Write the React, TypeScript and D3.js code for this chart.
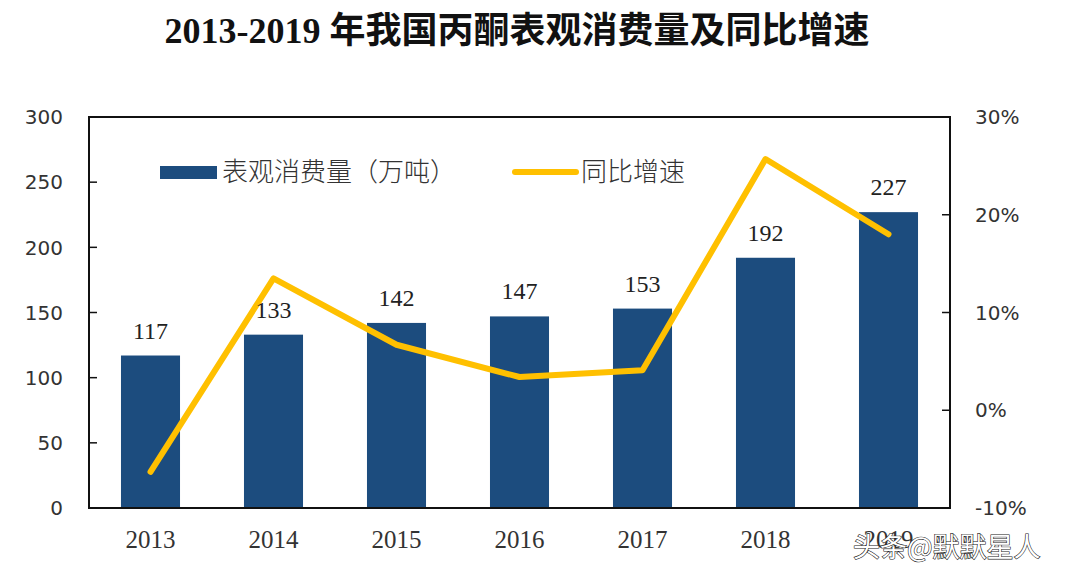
import React from "react";
import * as d3 from "d3";

const years = ["2013", "2014", "2015", "2016", "2017", "2018", "2019"];
const consumption = [117, 133, 142, 147, 153, 192, 227];
const growth = [-6.3, 13.5, 6.7, 3.4, 4.1, 25.7, 18.0];
const leftTicks = [0, 50, 100, 150, 200, 250, 300];
const rightTicks = [-10, 0, 10, 20, 30];

const W = 1066, H = 580;
const PL = 89, PR = 950, PT = 117, PB = 508;

export default function App() {
  const x = d3.scaleBand<string>().domain(years).range([PL, PR]).paddingInner(0.52).paddingOuter(0.26);
  const xc = d3.scaleBand<string>().domain(years).range([PL, PR]);
  const yL = d3.scaleLinear().domain([0, 300]).range([PB, PT]);
  const yR = d3.scaleLinear().domain([-10, 30]).range([PB, PT]);
  const line = d3
    .line<number>()
    .x((_, i) => (xc(years[i]) as number) + xc.bandwidth() / 2)
    .y((d) => yR(d));

  const serif = "'Liberation Serif', 'Times New Roman', serif";
  const sans = "'DejaVu Sans', 'Liberation Sans', sans-serif";
  const cjk = "'Noto Sans CJK SC', sans-serif";

  return (
    <svg width={W} height={H} style={{ position: "absolute", left: 0, top: 0, background: "#fff" }}>
      <text x={517} y={43} textAnchor="middle" fontFamily={`'Liberation Serif', 'Noto Sans CJK SC', serif`} fontWeight="bold" fontSize={36} fill="#111">
        2013-2019 年我国丙酮表观消费量及同比增速
      </text>

      {years.map((yr, i) => (
        <rect key={yr} x={x(yr)} y={yL(consumption[i])} width={x.bandwidth()} height={PB - yL(consumption[i])} fill="#1c4c7e" />
      ))}

      <path d={line(growth) || ""} fill="none" stroke="#FFC000" strokeWidth={6} strokeLinejoin="round" strokeLinecap="round" />

      {years.map((yr, i) => (
        <text key={"v" + yr} x={(x(yr) as number) + x.bandwidth() / 2} y={yL(consumption[i]) - 17} textAnchor="middle" fontFamily={serif} fontSize={24} fill="#222">
          {consumption[i]}
        </text>
      ))}

      <rect x={PL} y={PT} width={PR - PL} height={PB - PT} fill="none" stroke="#111" strokeWidth={2} />

      {leftTicks.map((t) => (
        <g key={"l" + t}>
          <line x1={PL} x2={PL + 8} y1={yL(t)} y2={yL(t)} stroke="#111" strokeWidth={1.5} />
          <text x={63} y={yL(t)} dy="0.36em" textAnchor="end" fontFamily={sans} fontSize={20} fill="#333">
            {t}
          </text>
        </g>
      ))}
      {rightTicks.map((t) => (
        <g key={"r" + t}>
          <line x1={PR - 8} x2={PR} y1={yR(t)} y2={yR(t)} stroke="#111" strokeWidth={1.5} />
          <text x={975} y={yR(t)} dy="0.36em" textAnchor="start" fontFamily={sans} fontSize={20} fill="#333">
            {t + "%"}
          </text>
        </g>
      ))}

      {years.map((yr) => (
        <text key={"x" + yr} x={(xc(yr) as number) + xc.bandwidth() / 2} y={548} textAnchor="middle" fontFamily={serif} fontSize={25} fill="#333">
          {yr}
        </text>
      ))}

      <rect x={160} y={166} width={57} height={13} fill="#1c4c7e" />
      <text x={222} y={172} dy="0.35em" fontFamily={cjk} fontWeight={300} fontSize={26} fill="#333">
        表观消费量（万吨）
      </text>
      <line x1={515} x2={576} y1={172} y2={172} stroke="#FFC000" strokeWidth={6} strokeLinecap="round" />
      <text x={581} y={172} dy="0.35em" fontFamily={cjk} fontWeight={300} fontSize={26} fill="#333">
        同比增速
      </text>

      <text x={853} y={557} fontFamily={cjk} fontSize={27} fill="#fff" stroke="#222" strokeWidth={1.2} paintOrder="stroke">
        头条@默默星人
      </text>
    </svg>
  );
}
